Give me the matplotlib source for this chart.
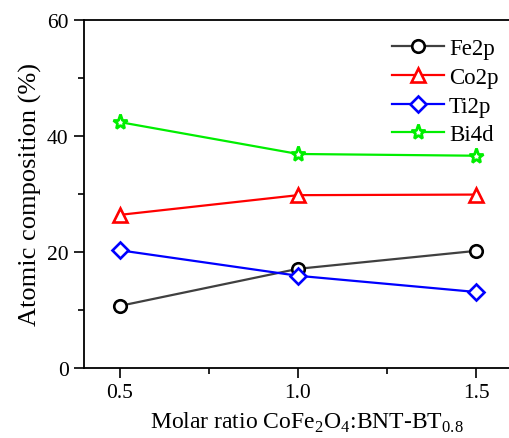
import matplotlib
matplotlib.use("Agg")
import matplotlib.pyplot as plt
from matplotlib.ticker import MultipleLocator

ratio = [0.5, 1.0, 1.5]
fe2p = [10.7, 17.1, 20.2]
co2p = [26.4, 29.8, 29.9]
ti2p = [20.3, 15.9, 13.1]
bi4d = [42.4, 36.9, 36.6]

plt.rcParams['font.family'] = ['Liberation Serif', 'DejaVu Serif']
plt.rcParams['mathtext.fontset'] = 'custom'
plt.rcParams['mathtext.rm'] = 'Liberation Serif'

fig = plt.figure(figsize=(5.10, 4.39), dpi=100)
W, H = 510, 439
left, right, top, bottom = 84, 512, 21, 369
ax = fig.add_axes([left / W, 1 - bottom / H, (right - left) / W, (bottom - top) / H])

ms = 9
lw = 1.6
ax.plot(ratio, fe2p, color='#404040', lw=lw, marker='o', ms=ms, mfc='white', mec='black', mew=1.9, label='Fe2p')
ax.plot(ratio, co2p, color='red', lw=lw, marker='^', ms=ms + 1, mfc='white', mec='red', mew=1.9, label='Co2p')
ax.plot(ratio, ti2p, color='blue', lw=lw, marker='D', ms=ms - 1, mfc='white', mec='blue', mew=1.9, label='Ti2p')
ax.plot(ratio, bi4d, color='#00ee00', lw=lw, marker='*', ms=ms + 2, mfc='white', mec='#00ee00', mew=2.0, label='Bi4d')

ax.set_xlim(0.4, 1.6)
ax.set_ylim(0, 60)
ax.set_xticks([0.5, 1.0, 1.5])
ax.set_xticklabels(['0.5', '1.0', '1.5'])
ax.xaxis.set_minor_locator(MultipleLocator(0.25))
ax.set_yticks([0, 20, 40, 60])
ax.yaxis.set_minor_locator(MultipleLocator(10))
ax.tick_params(which='major', direction='out', length=7, width=1.2, labelsize=15.5, pad=4)
ax.tick_params(which='minor', direction='out', length=4, width=1.2)
ax.tick_params(top=False, right=False, which='both')
for s in ax.spines.values():
    s.set_linewidth(1.3)

ax.set_xlabel('Molar ratio CoFe$_2$O$_4$:BNT-BT$_{0.8}$', fontsize=17)
ax.xaxis.set_label_coords(0.52, -0.12)
ax.set_ylabel('Atomic composition (%)', fontsize=19, labelpad=4)

ax.legend(loc='upper right', frameon=False, fontsize=16.5, handlelength=2.3,
          bbox_to_anchor=(0.995, 0.98), borderaxespad=0.1, labelspacing=0.33,
          handletextpad=0.2)

fig.savefig('out.png', dpi=100)
